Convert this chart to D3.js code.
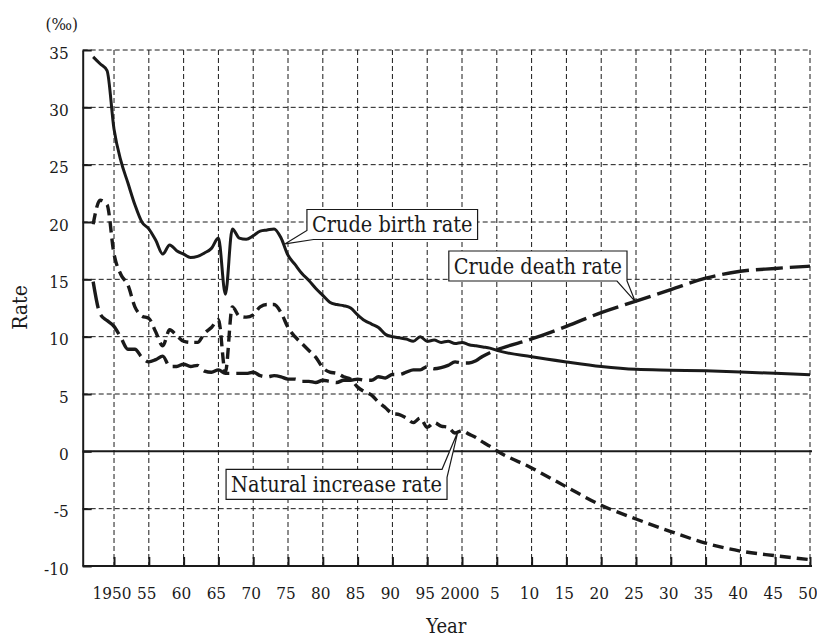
<!DOCTYPE html>
<html>
<head>
<meta charset="utf-8">
<script src="https://cdn.jsdelivr.net/npm/d3@7"></script>
<style>
  body { margin: 0; background: #fff; }
  svg { display: block; font-family: "DejaVu Serif", serif; }
</style>
</head>
<body>
<svg></svg>
<script>
// values (per mille)
const years = [1947, 1948, 1949, 1950, 1951, 1952, 1953, 1954, 1955, 1956, 1957, 1958, 1959,
  1960, 1961, 1962, 1963, 1964, 1965, 1966, 1967, 1968, 1969, 1970, 1971, 1972, 1973, 1974,
  1975, 1976, 1977, 1978, 1979, 1980, 1981, 1982, 1983, 1984, 1985, 1986, 1987, 1988, 1989,
  1990, 1991, 1992, 1993, 1994, 1995, 1996, 1997, 1998, 1999, 2000, 2001, 2002, 2003, 2004,
  2005, 2010, 2015, 2020, 2025, 2030, 2035, 2040, 2045, 2050];

const birthRate = [34.4, 33.8, 33.2, 28.1, 25.3, 23.4, 21.5, 20.0, 19.4, 18.4, 17.2, 18.0, 17.5,
  17.2, 16.9, 17.0, 17.3, 17.7, 18.6, 13.7, 19.4, 18.6, 18.5, 18.8, 19.2, 19.3, 19.4, 18.6,
  17.1, 16.3, 15.5, 14.9, 14.2, 13.6, 13.0, 12.8, 12.7, 12.5, 11.9, 11.4, 11.1, 10.8, 10.2,
  10.0, 9.9, 9.8, 9.6, 10.0, 9.6, 9.7, 9.5, 9.6, 9.4, 9.5, 9.3, 9.2, 9.1, 9.0,
  8.8, 8.25, 7.8, 7.4, 7.15, 7.08, 7.02, 6.92, 6.8, 6.68];

const deathRate = [14.8, 12.0, 11.4, 10.9, 9.9, 8.9, 8.9, 8.2, 7.8, 8.0, 8.3, 7.4, 7.4,
  7.6, 7.4, 7.5, 7.0, 6.9, 7.1, 6.8, 6.8, 6.8, 6.8, 6.9, 6.6, 6.5, 6.6, 6.5,
  6.3, 6.3, 6.1, 6.1, 6.0, 6.2, 6.1, 6.0, 6.2, 6.2, 6.3, 6.2, 6.2, 6.5, 6.4,
  6.7, 6.7, 6.9, 7.1, 7.1, 7.4, 7.2, 7.3, 7.5, 7.8, 7.7, 7.7, 7.9, 8.3, 8.6,
  8.85, 9.8, 10.9, 12.1, 13.1, 14.1, 15.1, 15.7, 15.95, 16.15];

const naturalRate = [19.8, 21.9, 21.5, 17.2, 15.4, 14.5, 12.6, 11.8, 11.6, 10.4, 9.2, 10.6, 10.1,
  9.6, 9.5, 9.5, 10.3, 10.8, 11.5, 6.9, 12.6, 11.8, 11.7, 11.9, 12.6, 12.8, 12.8, 12.1,
  10.8, 10.0, 9.4, 8.8, 8.2, 7.3, 6.9, 6.8, 6.5, 6.3, 5.6, 5.2, 4.9, 4.3, 3.8,
  3.3, 3.2, 2.9, 2.5, 2.9, 2.1, 2.5, 2.2, 2.1, 1.6, 1.8, 1.5, 1.2, 0.8, 0.45,
  0.05, -1.45, -3.1, -4.7, -5.9, -7.0, -8.0, -8.7, -9.1, -9.45];

const xTicks = [1950, 1955, 1960, 1965, 1970, 1975, 1980, 1985, 1990, 1995, 2000,
  2005, 2010, 2015, 2020, 2025, 2030, 2035, 2040, 2045, 2050];
const xTickLabels = ["1950", "55", "60", "65", "70", "75", "80", "85", "90", "95", "2000",
  "5", "10", "15", "20", "25", "30", "35", "40", "45", "50"];
const yTicks = [-10, -5, 0, 5, 10, 15, 20, 25, 30, 35];

const width = 817;
const height = 639;
const margin = { top: 50, right: 7, bottom: 73, left: 82.7 };

const svg = d3.select("svg")
  .attr("width", width)
  .attr("height", height);

const x = d3.scaleLinear().domain([1945.5, 2050]).range([margin.left, width - margin.right]);
const y = d3.scaleLinear().domain([-10, 35]).range([height - margin.bottom, margin.top]);

const ink = "#1a1a1a";
const tickFont = "'DejaVu Serif Condensed', 'DejaVu Serif', serif";

// grid
const grid = svg.append("g")
  .attr("stroke", ink)
  .attr("stroke-width", 1)
  .attr("stroke-dasharray", "5,3");

grid.selectAll(".vgrid")
  .data(xTicks)
  .join("line")
  .attr("x1", d => x(d)).attr("x2", d => x(d))
  .attr("y1", y(35)).attr("y2", y(-10));

grid.selectAll(".hgrid")
  .data(yTicks.filter(d => d !== 0 && d !== -10))
  .join("line")
  .attr("x1", x.range()[0]).attr("x2", x.range()[1])
  .attr("y1", d => y(d)).attr("y2", d => y(d));

// zero line
svg.append("line")
  .attr("x1", x.range()[0]).attr("x2", x.range()[1] + 2)
  .attr("y1", y(0)).attr("y2", y(0))
  .attr("stroke", ink).attr("stroke-width", 2);

// axes
const yAxis = svg.append("g")
  .attr("transform", `translate(${margin.left},0)`)
  .call(d3.axisLeft(y).tickValues(yTicks).tickFormat(d => String(d))
    .tickSizeInner(-9).tickSizeOuter(0).tickPadding(14));

const xAxis = svg.append("g")
  .attr("transform", `translate(0,${y(-10)})`)
  .call(d3.axisBottom(x).tickValues(xTicks)
    .tickFormat((d, i) => xTickLabels[i])
    .tickSizeInner(-9).tickSizeOuter(0).tickPadding(21));

[yAxis, xAxis].forEach(a => {
  a.select(".domain").attr("stroke", ink).attr("stroke-width", 2);
  a.selectAll(".tick line").attr("stroke", ink).attr("stroke-width", 2);
  a.selectAll(".tick text")
    .attr("fill", ink)
    .style("font-family", tickFont)
    .style("font-size", "17px");
});
yAxis.selectAll(".tick text").attr("dy", "0.48em");
xAxis.selectAll(".tick text").attr("dx", "-0.15em");
xAxis.select(".domain").attr("d", `M${x.range()[0]},0H${x.range()[1] + 2}`);

// series
const rows = years.map((yr, i) => ({ year: yr, birth: birthRate[i], death: deathRate[i], natural: naturalRate[i] }));

const series = [
  { key: "birth", dash: null, width: 3 },
  { key: "death", dash: "27,7", width: 3.4 },
  { key: "natural", dash: "11,6", width: 3.4 }
];

series.forEach(s => {
  svg.append("path")
    .datum(rows)
    .attr("fill", "none")
    .attr("stroke", ink)
    .attr("stroke-width", s.width)
    .attr("stroke-dasharray", s.dash)
    .attr("stroke-linejoin", "round")
    .attr("d", d3.line()
      .curve(d3.curveMonotoneX)
      .x(d => x(d.year))
      .y(d => y(d[s.key])));
});

// callout labels
const callouts = [
  { text: "Crude birth rate", year: 1974.6, value: 18.1, shape: "leftBottom" },
  { text: "Crude death rate", year: 2024.9, value: 13.05, shape: "bottomRight" },
  { text: "Natural increase rate", year: 1999.4, value: 1.7, shape: "topRight" }
];

const boxH = 30;
const pad = 5;

callouts.forEach(c => {
  const tx = x(c.year);
  const ty = y(c.value);
  const g = svg.append("g");
  const path = g.append("path")
    .attr("fill", "#fff")
    .attr("stroke", ink)
    .attr("stroke-width", 1.2);
  const label = g.append("text")
    .attr("fill", ink)
    .style("font-family", tickFont)
    .style("font-size", "21.5px")
    .text(c.text);
  const w = label.node().getComputedTextLength() + 2 * pad;
  let left, top, d;
  if (c.shape === "leftBottom") {
    left = tx + 21.7;
    top = ty - 4.3 - boxH;
    const right = left + w, bottom = top + boxH;
    d = `M${left},${top}H${right}V${bottom}H${left + 6.6}L${tx},${ty}L${left},${bottom - 9}Z`;
  } else if (c.shape === "bottomRight") {
    const right = tx - 8.3;
    left = right - w;
    top = ty - 20.7 - boxH;
    const bottom = top + boxH;
    d = `M${left},${top}H${right}V${bottom}L${tx},${ty}L${right - 10},${bottom}H${left}Z`;
  } else {
    const right = tx - 10.8;
    left = right - w;
    top = ty + 37.5;
    const bottom = top + boxH;
    d = `M${left},${top}H${right - 5}L${tx},${ty}L${right},${top + 8}V${bottom}H${left}Z`;
  }
  path.attr("d", d);
  label.attr("x", left + pad).attr("y", top + boxH - 7.3);
});

// axis titles
svg.append("text")
  .attr("x", 61.7).attr("y", 30)
  .attr("text-anchor", "middle")
  .attr("fill", ink)
  .style("font-family", tickFont)
  .style("font-size", "17px")
  .text("(‰)");

svg.append("text")
  .attr("transform", `translate(27,307.5) rotate(-90)`)
  .attr("text-anchor", "middle")
  .attr("fill", ink)
  .style("font-family", tickFont)
  .style("font-size", "21px")
  .text("Rate");

svg.append("text")
  .attr("x", (x.range()[0] + x.range()[1]) / 2)
  .attr("y", 633)
  .attr("text-anchor", "middle")
  .attr("fill", ink)
  .style("font-family", tickFont)
  .style("font-size", "20px")
  .text("Year");
</script>
</body>
</html>
